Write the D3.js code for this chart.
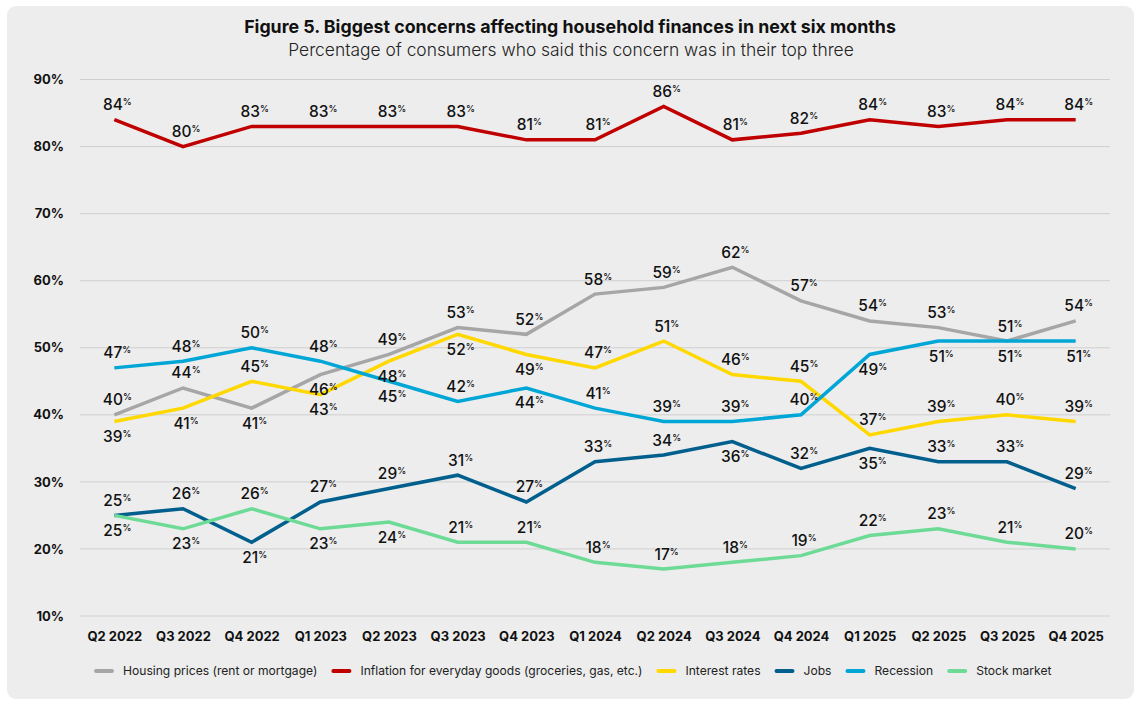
<!DOCTYPE html>
<html>
<head>
<meta charset="utf-8">
<script src="https://cdn.jsdelivr.net/npm/d3@7"></script>
<style>
  body { margin: 0; background: #fff; }
  svg { display: block; font-family: Inter, "Noto Sans", sans-serif; }
</style>
</head>
<body>
<main></main>
<script>
// quarters on the x axis
var quarters = ['Q2 2022', 'Q3 2022', 'Q4 2022', 'Q1 2023', 'Q2 2023', 'Q3 2023', 'Q4 2023',
  'Q1 2024', 'Q2 2024', 'Q3 2024', 'Q4 2024', 'Q1 2025', 'Q2 2025', 'Q3 2025', 'Q4 2025'];

var housing   = [40, 44, 41, 46, 49, 53, 52, 58, 59, 62, 57, 54, 53, 51, 54];
var inflation = [84, 80, 83, 83, 83, 83, 81, 81, 86, 81, 82, 84, 83, 84, 84];
var interest  = [39, 41, 45, 43, 48, 52, 49, 47, 51, 46, 45, 37, 39, 40, 39];
var jobs      = [25, 26, 21, 27, 29, 31, 27, 33, 34, 36, 32, 35, 33, 33, 29];
var recession = [47, 48, 50, 48, 45, 42, 44, 41, 39, 39, 40, 49, 51, 51, 51];
var stocks    = [25, 23, 26, 23, 24, 21, 21, 18, 17, 18, 19, 22, 23, 21, 20];

var yTicks = [10, 20, 30, 40, 50, 60, 70, 80, 90];

// label side per point: 1 = above the line, -1 = below
var housingSide   = [1, 1, -1, -1, 1, 1, 1, 1, 1, 1, 1, 1, 1, 1, 1];
var inflationSide = [1, 1, 1, 1, 1, 1, 1, 1, 1, 1, 1, 1, 1, 1, 1];
var interestSide  = [-1, -1, 1, -1, -1, -1, -1, 1, 1, 1, 1, 1, 1, 1, 1];
var jobsSide      = [1, 1, -1, 1, 1, 1, 1, 1, 1, -1, 1, -1, 1, 1, 1];
var recessionSide = [1, 1, 1, 1, -1, 1, -1, 1, 1, 1, 1, -1, -1, -1, -1];
var stocksSide    = [-1, -1, 1, -1, -1, 1, 1, 1, 1, 1, 1, 1, 1, 1, 1];

var series = [
  { name: 'Housing prices (rent or mortgage)', values: housing, side: housingSide, color: '#a6a6a6' },
  { name: 'Inflation for everyday goods (groceries, gas, etc.)', values: inflation, side: inflationSide, color: '#c00000' },
  { name: 'Interest rates', values: interest, side: interestSide, color: '#ffd800' },
  { name: 'Jobs', values: jobs, side: jobsSide, color: '#005f8d' },
  { name: 'Recession', values: recession, side: recessionSide, color: '#00a6d6' },
  { name: 'Stock market', values: stocks, side: stocksSide, color: '#6ddb96' }
];

var W = 1140, H = 705;
var svg = d3.select('main').append('svg')
    .attr('width', W)
    .attr('height', H);

// panel
svg.append('rect')
    .attr('x', 7).attr('y', 6)
    .attr('width', 1127).attr('height', 693)
    .attr('rx', 9)
    .attr('fill', '#ededed');

svg.append('text')
    .attr('x', 570).attr('y', 33)
    .attr('text-anchor', 'middle')
    .attr('font-size', 17.8)
    .attr('font-weight', 700)
    .attr('fill', '#111')
    .text('Figure 5. Biggest concerns affecting household finances in next six months');

svg.append('text')
    .attr('x', 571).attr('y', 56)
    .attr('text-anchor', 'middle')
    .attr('font-size', 17.4)
    .attr('font-weight', 300)
    .attr('fill', '#222')
    .text('Percentage of consumers who said this concern was in their top three');

// scales
var x = d3.scalePoint()
    .domain(quarters)
    .range([80, 1110])
    .padding(0.5);

var y = d3.scaleLinear()
    .domain([10, 90])
    .range([616, 79.5]);

// gridlines
svg.append('g')
  .selectAll('line')
  .data(yTicks)
  .enter().append('line')
    .attr('x1', 80).attr('x2', 1110)
    .attr('y1', d => y(d)).attr('y2', d => y(d))
    .attr('stroke', '#cfcfcf')
    .attr('stroke-width', 1);

// y axis
var yAxis = svg.append('g')
    .attr('transform', 'translate(64,0)')
    .call(d3.axisLeft(y).tickValues(yTicks).tickSize(0).tickPadding(0).tickFormat(d => d + '%'));
yAxis.select('.domain').remove();
yAxis.selectAll('text')
    .attr('font-family', 'Inter, "Noto Sans", sans-serif')
    .attr('font-size', 13)
    .attr('font-weight', 700)
    .attr('fill', '#111');

// x axis
var xAxis = svg.append('g')
    .attr('transform', 'translate(0,636)')
    .call(d3.axisBottom(x).tickSize(0).tickPadding(0));
xAxis.select('.domain').remove();
xAxis.selectAll('text')
    .attr('font-family', 'Inter, "Noto Sans", sans-serif')
    .attr('font-size', 13)
    .attr('font-weight', 700)
    .attr('fill', '#111')
    .attr('dy', '0.35em');

// lines
var line = d3.line()
    .x((d, i) => x(quarters[i]))
    .y(d => y(d));

svg.append('g')
  .selectAll('path')
  .data(series)
  .enter().append('path')
    .attr('d', d => line(d.values))
    .attr('fill', 'none')
    .attr('stroke', d => d.color)
    .attr('stroke-width', 3.5)
    .attr('stroke-linejoin', 'miter');

// data labels
series.forEach(function(s) {
  var lbl = svg.append('g').selectAll('text')
    .data(s.values)
    .enter().append('text')
      .attr('x', (d, i) => x(quarters[i]) + 3)
      .attr('y', (d, i) => s.side[i] > 0 ? y(d) - 9.5 : y(d) + 20.5)
      .attr('text-anchor', 'middle')
      .attr('font-size', 15.5)
      .attr('font-weight', 500)
      .attr('fill', '#111');
  lbl.append('tspan').text(d => d);
  lbl.append('tspan')
      .attr('font-size', 9)
      .attr('dy', -5)
      .text('%');
});

// legend
var legend = svg.append('g').attr('transform', 'translate(96,671)');
var lx = 0;
series.forEach(function(s) {
  var g = legend.append('g').attr('transform', 'translate(' + lx + ',0)');
  g.append('line')
      .attr('x1', 0).attr('x2', 16)
      .attr('stroke', s.color)
      .attr('stroke-width', 4)
      .attr('stroke-linecap', 'round');
  var t = g.append('text')
      .attr('x', 27)
      .attr('dy', '0.35em')
      .attr('font-size', 12.1)
      .attr('fill', '#222')
      .text(s.name);
  lx += 27 + t.node().getComputedTextLength() + 16;
});
</script>
</body>
</html>
